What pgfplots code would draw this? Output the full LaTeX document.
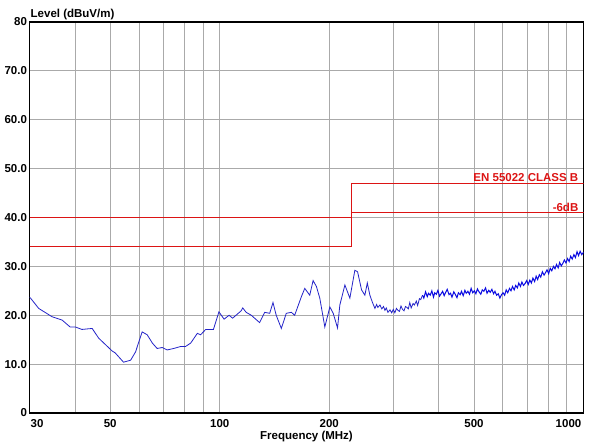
\documentclass[border=0pt]{standalone}
\usepackage{pgfplots}
\pgfplotsset{compat=1.18}
\usepackage{fontspec}
\setmainfont{Liberation Sans}
\definecolor{trace}{RGB}{35,35,200}
\definecolor{tracedense}{RGB}{10,10,225}
\definecolor{limitred}{RGB}{220,20,20}
\definecolor{gridgray}{RGB}{170,170,170}
\newcommand{\lblfont}{\fontsize{11.5}{13}\selectfont\bfseries}
\begin{document}
\begin{tikzpicture}
\begin{axis}[
  name=main,
  at={(0,0)}, anchor=south west,
  scale only axis, width=554pt, height=391pt,
  xmode=log, xmin=30, xmax=1000, ymin=0, ymax=80,
  log basis x=10,
  xtick={40,50,60,70,80,90,100,200,300,400,500,600,700,800,900},
  xticklabels={,50,,,,,100,200,,,500,,,,},
  ytick={0,10,20,30,40,50,60,70,80},
  yticklabels={0,10.0,20.0,30.0,40.0,50.0,60.0,70.0,80},
  minor xtick={}, major tick length=0pt,
  grid=major, grid style={gridgray, line width=0.9pt},
  axis line style={black, line width=1.1pt},
  tick label style={font=\lblfont},
  xticklabel style={yshift=-3pt},
  yticklabel style={xshift=1pt},
  clip mode=individual,
]
% limit and margin lines
\addplot[limitred, line width=0.9pt, const plot] coordinates {(30,40) (230,47) (1000,47)};
\addplot[limitred, line width=0.9pt, const plot] coordinates {(30,34) (230,41) (1000,41)};
\node[anchor=south east, text=limitred, font=\lblfont, inner sep=1pt]
  at (axis cs:1000,47) [xshift=-4pt] {EN 55022 CLASS B};
\node[anchor=south east, text=limitred, font=\lblfont, inner sep=1pt]
  at (axis cs:1000,41) [xshift=-4pt] {-6dB};
% measured level, lower band
\addplot[trace, line width=0.8pt] coordinates {
(30,23.7) (30.2,23.5) (31.8,21.4) (34.6,19.7) (36.9,19.0) (38.8,17.6) (40.1,17.6)
(41.8,17.1) (44.6,17.3) (46.5,15.3) (50.6,12.7) (51.6,12.3) (54.4,10.4) (56.9,10.8)
(58.7,12.5) (61.2,16.6) (63.2,16.0) (65.3,14.3) (67.3,13.2) (69.5,13.4) (71.7,12.9)
(74.7,13.2) (78.0,13.6) (80.5,13.6) (83.2,14.3) (86.8,16.3) (88.6,16.0) (91.5,17.1)
(96.1,17.1) (99.5,20.7) (102.8,19.2) (106.1,20.0) (108.5,19.4) (114.5,20.9) (115.7,21.5)
(118.2,20.6) (122.1,20.0) (128.7,18.5) (132.9,20.6) (137.2,20.4) (140.1,22.6) (143.0,20.0)
(147.7,17.3) (152.4,20.4) (157.4,20.6) (160.7,20.0) (167.7,23.8) (171.3,25.5) (176.8,24.1)
(180.6,27.1) (184.4,25.9) (188.4,23.5) (194.5,17.6) (200.8,21.7) (205.1,20.4) (210.8,17.4)
(213.9,22.1) (220.8,26.2) (227.9,23.5) (235.2,29.2) (239.3,28.9) (245.4,25.2) (250.6,24.1)
(254.5,26.6) (258.7,24.1) (263,22.6) (267.1,21.4) (270,22.2) (272,21.6) (275.7,22.1)
(279,21.3) (282,21.8) (284.6,21.0) (287,21.5) (290,20.6) (293.8,21.1) (297,20.5)
(300,21.2) (303,20.5) (306,21.4) (309,21.0) (312,20.8) (315,21.9) (318,21.2) (321,20.9)
(324,21.8) (327,21.6) (330,21.3) (333,22.6) (336,21.5) (340,22.4) (343,22.1) (347,22.9)
(350,22.0) (354,23.4) (357,23.2) (361,24.1)
};
% measured level, upper band (denser sweep)
\addplot[tracedense, line width=1.0pt] coordinates {
(361,24.1) (364,23.5) (368,24.8) (372,23.8) (375,24.5)
(379,24.1) (383,25.0) (387,23.7) (390,24.6) (394,24.3) (398,25.1) (402,23.9) (406,24.4)
(410,24.9) (414,24.0) (418,24.7) (422,25.3) (427,24.2) (431,24.5) (435,23.7) (440,24.8)
(444,24.3) (449,23.6) (453,24.6) (458,24.2) (462,24.9) (467,24.0) (472,25.1) (476,24.5)
(481,24.9) (486,24.3) (491,25.5) (496,24.6) (501,25.0) (506,24.4) (511,25.4) (516,24.8)
(522,24.3) (527,25.2) (532,24.9) (538,25.6) (543,24.5) (549,25.1) (554,24.7) (560,25.3)
(566,24.4) (571,24.9) (577,24.1) (583,24.4) (589,23.5) (595,24.2) (601,24.6) (607,24.1)
(613,25.2) (619,24.6) (626,25.5) (632,25.0) (638,25.9) (645,25.2) (651,26.1) (658,25.6)
(664,26.6) (671,25.9) (677,26.8) (684,26.1) (691,26.5) (698,27.1) (705,26.3) (712,27.2)
(719,26.6) (726,27.6) (734,26.9) (741,28.0) (748,27.3) (756,28.3) (763,27.8) (771,28.9)
(779,28.2) (786,28.7) (794,29.3) (802,28.5) (810,29.6) (818,29.1) (827,30.0) (835,29.5)
(843,30.4) (852,29.7) (860,30.8) (869,30.1) (877,30.6) (886,31.3) (895,30.7) (904,31.6)
(913,31.0) (922,32.1) (931,31.5) (941,32.4) (950,31.8) (960,33.0) (969,32.2) (979,33.1)
(989,32.4) (1000,32.9)
};
\end{axis}
% axis titles and end tick labels
\node[anchor=base west, inner sep=0pt, font=\lblfont]
  at (main.north west) [xshift=1pt, yshift=5pt] {Level (dBuV/m)};
\node[anchor=center, font=\lblfont]
  at (main.south) [yshift=-24pt] {Frequency (MHz)};
\node[anchor=north west, font=\lblfont, inner sep=0pt]
  at (main.south west) [yshift=-6pt, xshift=1pt] {30};
\node[anchor=north east, font=\lblfont, inner sep=0pt]
  at (main.south east) [yshift=-6pt, xshift=-2pt] {1000};
\pgfresetboundingbox
\path[use as bounding box] (-29.5pt,-32pt) rectangle (577.5pt,413pt);
\end{tikzpicture}
\end{document}
